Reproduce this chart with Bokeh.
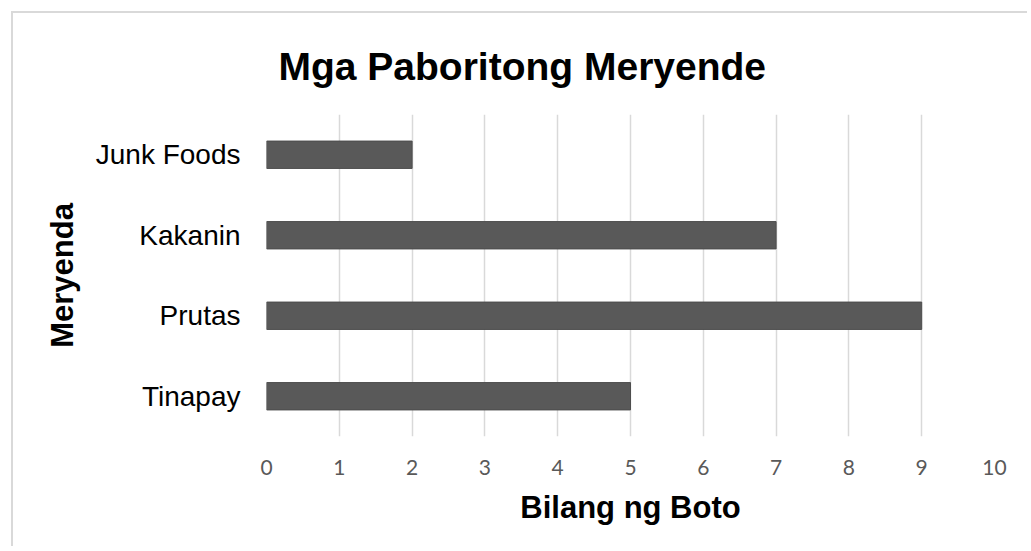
from bokeh.plotting import figure
from bokeh.models import ColumnDataSource, FixedTicker
from bokeh.embed import file_html
from bokeh.resources import INLINE

categories = ["Tinapay", "Prutas", "Kakanin", "Junk Foods"]
votes = [5, 9, 7, 2]
x_ticks = [0, 1, 2, 3, 4, 5, 6, 7, 8, 9, 10]

source = ColumnDataSource(data=dict(cat=categories, votes=votes))

p = figure(
    y_range=categories, x_range=(0, 10),
    width=1016, height=535,
    output_backend="svg", toolbar_location=None,
    min_border_left=253, min_border_right=35,
    min_border_top=101, min_border_bottom=112,
)
p.margin = (11, 0, 0, 11)
p.styles = {"border-top": "2px solid #d9d9d9", "border-left": "2px solid #d9d9d9"}

p.hbar(y="cat", right="votes", left=0, height=0.34, source=source,
       fill_color="#595959", line_color="#4d4d4d", line_width=1)

p.title.text = "Mga Paboritong Meryende"
p.title.align = "left"
p.title.offset = 12
p.title.standoff = 54
p.title.text_font = "Liberation Sans"
p.title.text_font_size = "39px"
p.title.text_font_style = "bold"
p.title.text_color = "#000000"

p.outline_line_color = None
p.ygrid.grid_line_color = None
p.xgrid.grid_line_color = "#d9d9d9"
p.xgrid.grid_line_width = 1.5

p.xaxis.ticker = FixedTicker(ticks=x_ticks)
p.xaxis.axis_line_color = None
p.xaxis.major_tick_line_color = None
p.xaxis.minor_tick_line_color = None
p.xaxis.major_label_text_font = "Lato"
p.xaxis.major_label_text_font_size = "21px"
p.xaxis.major_label_text_color = "#595959"
p.xaxis.major_label_standoff = 17
p.xaxis.axis_label = "Bilang ng Boto"
p.xaxis.axis_label_text_font = "Liberation Sans"
p.xaxis.axis_label_text_font_size = "31px"
p.xaxis.axis_label_text_font_style = "bold"
p.xaxis.axis_label_text_color = "#000000"
p.xaxis.axis_label_standoff = 12

p.yaxis.axis_line_color = None
p.yaxis.major_tick_line_color = None
p.yaxis.minor_tick_line_color = None
p.yaxis.major_label_text_font = "Liberation Sans"
p.yaxis.major_label_text_font_size = "28px"
p.yaxis.major_label_text_color = "#000000"
p.yaxis.major_label_standoff = 20
p.yaxis.axis_label = "Meryenda"
p.yaxis.axis_label_text_font = "Liberation Sans"
p.yaxis.axis_label_text_font_size = "31px"
p.yaxis.axis_label_text_font_style = "bold"
p.yaxis.axis_label_text_color = "#000000"
p.yaxis.axis_label_standoff = 13

open("out.html", "w").write(file_html(p, INLINE))
